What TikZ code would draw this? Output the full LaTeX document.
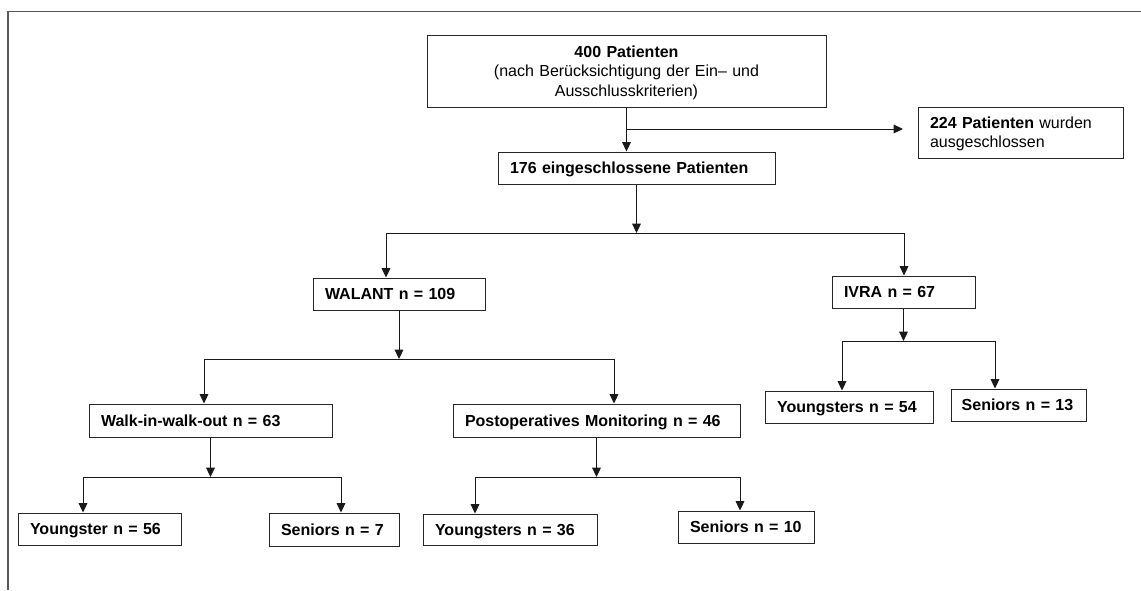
\documentclass[tikz,border=0pt]{standalone}
\usepackage{fontspec}
\setmainfont{Liberation Sans}
\usetikzlibrary{arrows.meta}
\begin{document}
\begin{tikzpicture}[x=0.75pt,y=-0.75pt,
  box/.style={draw=black!85, line width=0.75pt, rectangle, inner ysep=0pt, inner xsep=9pt,
    font=\fontsize{12}{14.55}\selectfont\bfseries, text height=8.6pt, text depth=0pt, align=left},
  arr/.style={draw=black!90, line width=0.75pt, -{Triangle[length=7pt,width=6.5pt]}},
  link/.style={draw=black!90, line width=0.75pt},
  frame/.style={draw=black!65, line width=1.2pt}]
\useasboundingbox (0,0) rectangle (1141,590);

% outer frame
\draw[frame] (8,590) -- (8,11.5) -- (1141,11.5);

% boxes
\node[box, align=center, text width=281.25pt, minimum width=299.25pt, minimum height=54pt, text depth=29.1pt]
  (top) at (626.5,71) {400 Patienten\\ \mdseries(nach Berücksichtigung der Ein– und\\ Ausschlusskriterien)};
\node[box, text width=135.75pt, minimum width=153.75pt, minimum height=38.25pt, text depth=14.55pt]
  (excl) at (1020.5,132.5) {224 Patienten \mdseries wurden\\ ausgeschlossen};
\node[box, text width=189.75pt, minimum height=24pt] (incl) at (636.5,168) {176 eingeschlossene Patienten};
\node[box, text width=111pt, minimum height=24pt] (walant) at (399,294) {WALANT n = 109};
\node[box, text width=89.25pt, minimum height=24pt] (ivra) at (903.5,292) {IVRA n = 67};
\node[box, text width=108pt, minimum height=24pt] (y54) at (849,407) {Youngsters n = 54};
\node[box, inner xsep=8pt, text width=85.25pt, minimum height=24pt] (s13) at (1018.5,405) {\mbox{Seniors n = 13}};
\node[box, text width=164.25pt, minimum height=24.75pt] (walk) at (210.5,420.5) {Walk-in-walk-out n = 63};
\node[box, text width=197.25pt, minimum height=24.75pt] (postop) at (596.5,420.5) {Postoperatives Monitoring n = 46};
\node[box, text width=104.25pt, minimum height=24pt] (y56) at (99.5,529) {Youngster n = 56};
\node[box, text width=79.5pt, minimum height=24.75pt] (s7) at (334,529.5) {Seniors n = 7};
\node[box, text width=112.5pt, minimum height=23.25pt] (y36) at (510,529.5) {Youngsters n = 36};
\node[box, text width=84pt, minimum height=24pt] (s10) at (746,527) {Seniors n = 10};

% branch points
\coordinate (jx) at (626.5,129);
\coordinate (ex) at (903,129);
\coordinate (b1) at (386,233);
\coordinate (b2) at (904,233);
\coordinate (c1) at (204,359);
\coordinate (c2) at (614,359);
\coordinate (d1) at (842,341);
\coordinate (d2) at (995,341);
\coordinate (e1) at (83,477);
\coordinate (e2) at (341,477);
\coordinate (f1) at (475,477);
\coordinate (f2) at (740,477);

% connectors
\draw[arr] (top.south) -- (top.south |- incl.north);
\draw[arr] (jx) -- (ex);

\draw[arr] (incl.south) -- (incl.south |- b1);
\draw[link] (b1) -- (b2);
\draw[arr] (b1) -- (b1 |- walant.north);
\draw[arr] (b2) -- (b2 |- ivra.north);

\draw[arr] (walant.south) -- (walant.south |- c1);
\draw[link] (c1) -- (c2);
\draw[arr] (c1) -- (c1 |- walk.north);
\draw[arr] (c2) -- (c2 |- postop.north);

\draw[arr] (ivra.south) -- (ivra.south |- d1);
\draw[link] (d1) -- (d2);
\draw[arr] (d1) -- (d1 |- y54.north);
\draw[arr] (d2) -- (d2 |- s13.north);

\draw[arr] (walk.south) -- (walk.south |- e1);
\draw[link] (e1) -- (e2);
\draw[arr] (e1) -- (e1 |- y56.north);
\draw[arr] (e2) -- (e2 |- s7.north);

\draw[arr] (postop.south) -- (postop.south |- f1);
\draw[link] (f1) -- (f2);
\draw[arr] (f1) -- (f1 |- y36.north);
\draw[arr] (f2) -- (f2 |- s10.north);
\end{tikzpicture}
\end{document}
